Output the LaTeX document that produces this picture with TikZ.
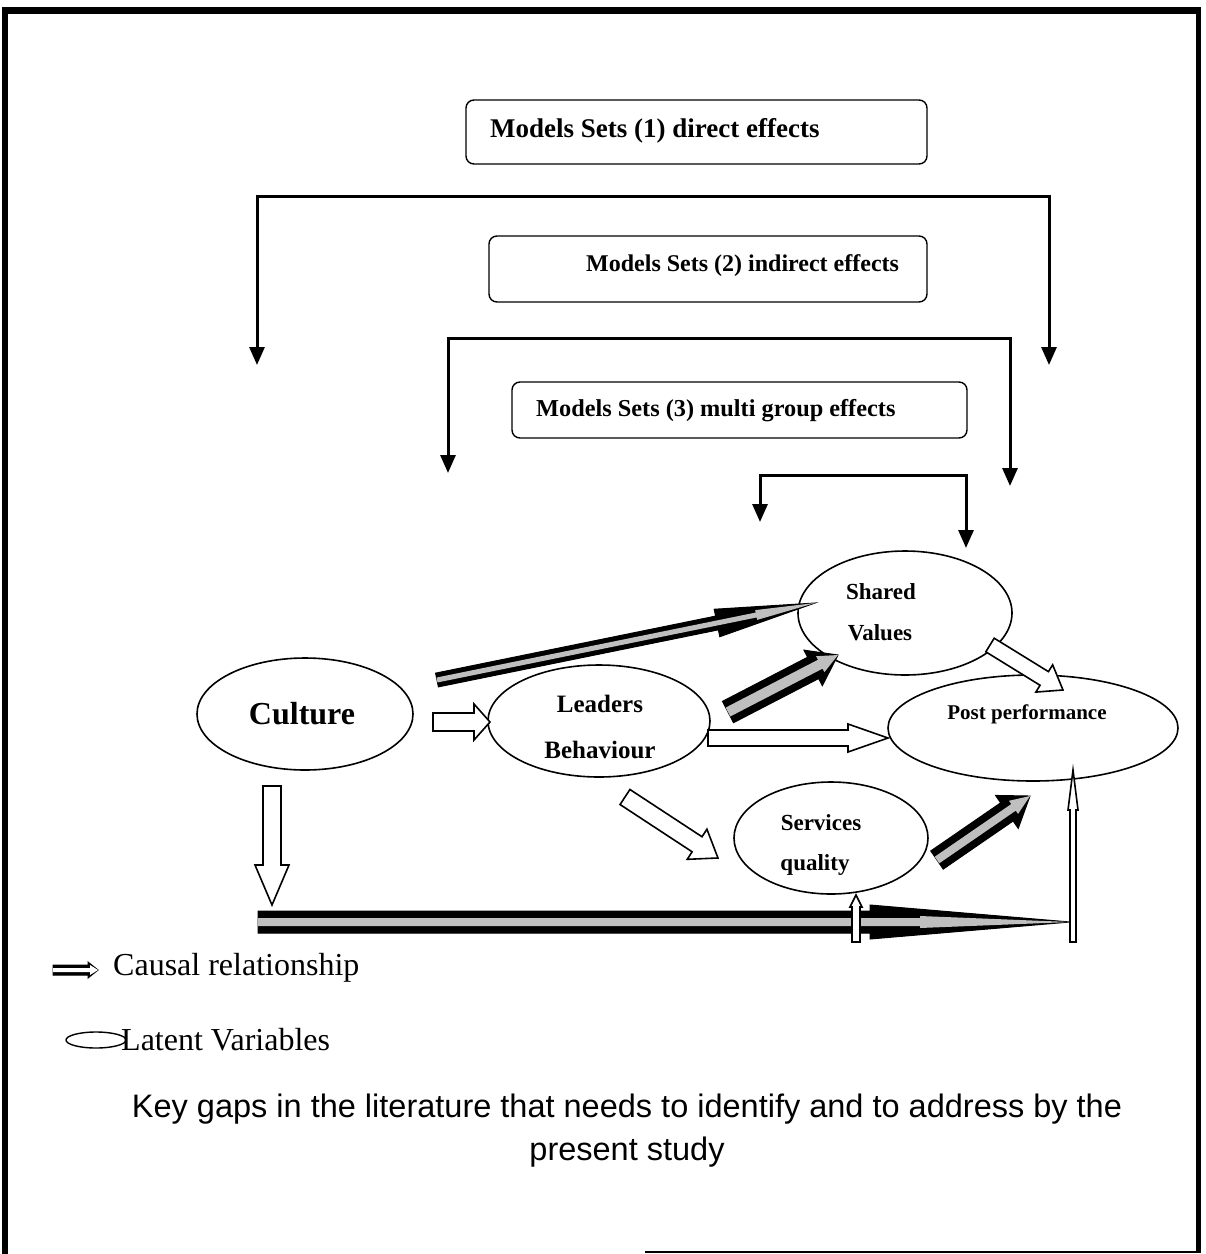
\documentclass[tikz,border=0pt]{standalone}
\usepackage{fontspec}
\setmainfont{Liberation Serif}
\newfontfamily\capfont{Liberation Sans}
\usetikzlibrary{shapes.geometric,arrows.meta,calc}

% block arrow: [style]{start}{end}{shaft half width}{head half width}{head length}
\newcommand\blockarrow[6][]{%
  \path let \p1=(#2), \p2=(#3),
    \n1={atan2(\y2-\y1,\x2-\x1)}, \n2={veclen(\x2-\x1,\y2-\y1)} in
    \pgfextra{\xdef\baAng{\n1}\xdef\baLen{\n2}\xdef\baX{\x1}\xdef\baY{\y1}};
  \begin{scope}[shift={(\baX,\baY)}, rotate=\baAng]
    \path[#1] (0pt,-#4pt) -- ({\baLen-#6pt},-#4pt) -- ({\baLen-#6pt},-#5pt)
      -- (\baLen,0pt) -- ({\baLen-#6pt},#5pt) -- ({\baLen-#6pt},#4pt)
      -- (0pt,#4pt) -- cycle;
  \end{scope}}

\tikzset{
  setbox/.style={draw, line width=1.4pt, rounded corners=8pt},
  bracket/.style={line width=3pt,
    arrows={Triangle[width=15pt,length=18pt]-Triangle[width=15pt,length=18pt]}},
  latent/.style={draw, ellipse, line width=1.6pt, inner sep=0pt},
  boxtext/.style={anchor=west, inner sep=0pt},
  vartext/.style={inner sep=0pt, font=\fontsize{25}{30}\selectfont\bfseries},
  darkarrow/.style={fill=black, draw=black, line width=1pt},
  streak/.style={fill=gray!50, draw=none},
  lightarrow/.style={fill=white, draw=black, line width=1.6pt},
}

\begin{document}
\begin{tikzpicture}[x=1pt,y=-1pt]
\useasboundingbox (0,0) rectangle (1206,1254);
\fill[white] (0,0) rectangle (1206,1254);

% frame
\draw[line width=6pt] (5,1254) -- (5,8);
\draw[line width=7pt] (2,10) -- (1201,10);
\draw[line width=5pt] (1198,8) -- (1198,1253);
\draw[line width=2pt] (645,1252) -- (1198,1252);

% model set boxes
\draw[setbox] (466,100) rectangle (927,164);
\node[boxtext, font=\fontsize{27}{32}\selectfont\bfseries] (set1) at (490,131) {Models Sets (1) direct effects};
\draw[setbox] (489,236) rectangle (927,302);
\node[boxtext, font=\fontsize{24}{28}\selectfont\bfseries] (set2) at (586,266) {Models Sets (2) indirect effects};
\draw[setbox] (512,382) rectangle (967,438);
\node[boxtext, font=\fontsize{24.3}{28}\selectfont\bfseries] (set3) at (536,411) {Models Sets (3) multi group effects};

% brackets
\coordinate (b1l) at (257,365); \coordinate (b1c) at (1049,196); \coordinate (b1r) at (1049,365);
\coordinate (b2l) at (448,473); \coordinate (b2c) at (1010,338); \coordinate (b2r) at (1010,486);
\coordinate (b3l) at (760,522); \coordinate (b3c) at (966,475); \coordinate (b3r) at (966,548);
\draw[bracket] (b1l) |- (b1c) -- (b1r);
\draw[bracket] (b2l) |- (b2c) -- (b2r);
\draw[bracket] (b3l) |- (b3c) -- (b3r);

% latent variables
\node[latent, minimum width=216pt, minimum height=112pt] (culture) at (305,714) {};
\node[latent, minimum width=222pt, minimum height=112pt] (leaders) at (599,721) {};
\node[latent, minimum width=214pt, minimum height=124pt] (shared) at (905,613) {};
\node[latent, minimum width=290pt, minimum height=106pt] (post) at (1033,728) {};
\node[latent, minimum width=194pt, minimum height=112pt] (services) at (831,838) {};

\node[inner sep=0pt, font=\fontsize{32}{36}\selectfont\bfseries] (tculture) at (302,714) {Culture};
\node[vartext] (tleaders1) at (600,704) {Leaders};
\node[vartext] (tleaders2) at (600,750) {Behaviour};
\node[vartext, font=\fontsize{23}{28}\selectfont\bfseries] (tshared1) at (881,592) {Shared};
\node[vartext, font=\fontsize{23}{28}\selectfont\bfseries] (tshared2) at (880,633) {Values};
\node[inner sep=0pt, font=\fontsize{21}{26}\selectfont\bfseries] (tpost) at (1027,714) {Post performance};
\node[vartext, font=\fontsize{23}{28}\selectfont\bfseries] (tserv1) at (821,823) {Services};
\node[vartext, font=\fontsize{23}{28}\selectfont\bfseries] (tserv2) at (815,865) {quality};

% causal relationships
\coordinate (a1s) at (437,680);  \coordinate (a1e) at (815,603);
\coordinate (a2s) at (433,722);  \coordinate (a2e) at (490,722);
\coordinate (a3s) at (728,712);  \coordinate (a3e) at (838,655);
\coordinate (a4s) at (708,738);  \coordinate (a4e) at (888,738);
\coordinate (a5s) at (990,645);  \coordinate (a5e) at (1063,690);
\coordinate (a6s) at (625,797);  \coordinate (a6e) at (718,858);
\coordinate (a7s) at (937,860);  \coordinate (a7e) at (1030,796);
\coordinate (a8s) at (272,786);  \coordinate (a8e) at (272,905);
\coordinate (a9s) at (258,922);  \coordinate (a9e) at (1070,922);
\coordinate (a10s) at (1073,942); \coordinate (a10e) at (1073,770);
\coordinate (a11s) at (856,942); \coordinate (a11e) at (856,895);

\blockarrow[darkarrow]{a1s}{a1e}{7}{14}{100}
\blockarrow[streak]{a1s}{a1e}{2.5}{5}{60}
\blockarrow[lightarrow]{a2s}{a2e}{9}{18}{16}
\blockarrow[darkarrow]{a3s}{a3e}{12}{20}{28}
\blockarrow[streak]{a3s}{a3e}{5}{9}{20}
\blockarrow[lightarrow]{a4s}{a4e}{8}{14}{40}
\blockarrow[lightarrow]{a5s}{a5e}{8}{16}{22}
\blockarrow[lightarrow]{a6s}{a6e}{9}{18}{25}
\blockarrow[darkarrow]{a7s}{a7e}{11}{20}{28}
\blockarrow[streak]{a7s}{a7e}{4}{8}{20}
\blockarrow[lightarrow]{a8s}{a8e}{9}{17}{40}
\blockarrow[darkarrow]{a9s}{a9e}{11}{17}{200}
\blockarrow[streak]{a9s}{a9e}{4}{6}{150}
\blockarrow[lightarrow]{a10s}{a10e}{3}{5}{40}
\blockarrow[lightarrow]{a11s}{a11e}{4}{6}{12}

% legend
\coordinate (lgs) at (53,970); \coordinate (lge) at (98,970);
\blockarrow[darkarrow]{lgs}{lge}{5}{8}{10}
\blockarrow[fill=white]{lgs}{lge}{2}{5}{8}
\node[anchor=west, inner sep=0pt, font=\fontsize{32}{36}\selectfont] (lgarrow) at (113,968) {Causal relationship};
\node[draw, ellipse, line width=1.4pt, minimum width=60pt, minimum height=16pt, inner sep=0pt] (lgell) at (96,1040) {};
\node[anchor=west, inner sep=0pt, font=\fontsize{32}{36}\selectfont] (lglatent) at (121,1040) {Latent Variables};

% caption
\node[align=center, inner sep=0pt, font=\capfont\fontsize{32.5}{43}\selectfont] (caption) at (627,1131)
  {Key gaps in the literature that needs to identify and to address by the\\present study};
\end{tikzpicture}
\end{document}
